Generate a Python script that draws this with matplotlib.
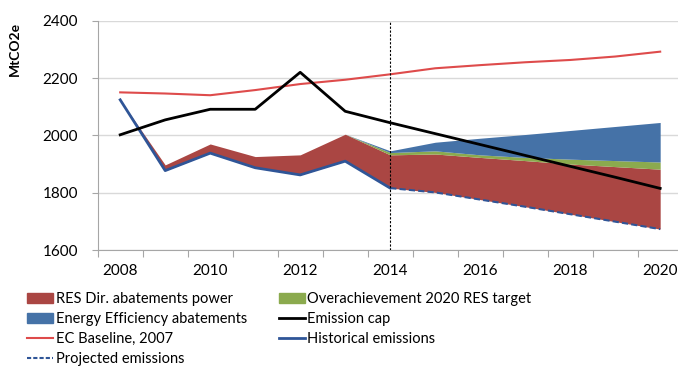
import matplotlib
matplotlib.use('Agg')
import matplotlib.pyplot as plt
from matplotlib.patches import Patch
from matplotlib.lines import Line2D
import numpy as np

# emissions in MtCO2e, 2008-2020
years = list(range(2008, 2021))
ec_baseline = [2150, 2146, 2140, 2158, 2179, 2194, 2213, 2234, 2245, 2255, 2263, 2275, 2292]
emission_cap = [2002, 2054, 2091, 2091, 2220, 2084, 2044, 2006, 1968, 1930, 1892, 1854, 1815]
historical = [2124, 1877, 1938, 1887, 1862, 1910, 1816]            # 2008-2014
projected = [1816, 1801, 1776, 1751, 1725, 1699, 1673]             # 2014-2020
# stacked abatement layers on top of historical / projected emissions
res_abatement = [0, 20, 32, 39, 70, 94, 116, 134, 147, 161, 175, 192, 209]
overachievement = [0, 0, 0, 0, 0, 0, 8, 11, 9, 11, 17, 21, 25]
ee_abatement = [0, 0, 0, 0, 0, 0, 6, 30, 58, 80, 100, 119, 138]

c_res = '#AA4643'
c_over = '#8BAA4E'
c_ee = '#4572A7'
c_line_blue = '#2F5597'
c_baseline = '#DE4B4B'

plt.rcParams['font.family'] = ['Lato', 'DejaVu Sans']

x = np.array(years)
base = np.array(historical[:-1] + projected)
l1 = base + np.array(res_abatement)
l2 = l1 + np.array(overachievement)
l3 = l2 + np.array(ee_abatement)

fig = plt.figure(figsize=(6.78, 3.71), dpi=100)
ax = fig.add_axes([0.1441, 0.3261, 0.8628, 0.6181])

ax.fill_between(x, base, l1, color=c_res, lw=0, zorder=2)
ax.fill_between(x, l1, l2, color=c_over, lw=0, zorder=2)
ax.fill_between(x, l2, l3, color=c_ee, lw=0, zorder=2)

ax.plot(x, ec_baseline, color=c_baseline, lw=1.5, zorder=3)
ax.plot(x, emission_cap, color='black', lw=2, zorder=4)
ax.plot(x[:7], historical, color=c_line_blue, lw=2, zorder=3)
ax.plot(x[6:], projected, color=c_line_blue, lw=1.5, ls=(0, (3, 1.5)), zorder=3)
ax.axvline(2014, color='black', lw=0.8, ls=(0, (2, 1.5)), zorder=5)

ax.set_xlim(2007.5, 2020.5)
ax.set_ylim(1600, 2400)
ax.set_yticks(range(1600, 2401, 200))
ax.set_xticks(years[::2])
ax.set_xticks(np.arange(2007.5, 2021, 1), minor=True)
ax.tick_params(axis='x', which='major', length=0, pad=10, labelsize=11)
ax.tick_params(axis='x', which='minor', length=5, color='#A6A6A6', width=0.8)
ax.tick_params(axis='y', length=4, color='#A6A6A6', width=0.8, pad=10, labelsize=11)
ax.grid(axis='y', color='#D9D9D9', lw=1)
ax.set_axisbelow(True)
for s in ['top', 'right']:
    ax.spines[s].set_visible(False)
for s in ['left', 'bottom']:
    ax.spines[s].set_color('#A6A6A6')
    ax.spines[s].set_linewidth(0.8)

fig.text(0.022, 0.868, 'MtCO2e', rotation=90, fontsize=10, fontweight='bold',
         ha='center', va='center')

left_handles = [
    Patch(color=c_res, label='RES Dir. abatements power'),
    Patch(color=c_ee, label='Energy Efficiency abatements'),
    Line2D([], [], color=c_baseline, lw=1.5, label='EC Baseline, 2007'),
    Line2D([], [], color=c_line_blue, lw=1.5, ls=(0, (2, 1)), label='Projected emissions'),
]
right_handles = [
    Patch(color=c_over, label='Overachievement 2020 RES target'),
    Line2D([], [], color='black', lw=2, label='Emission cap'),
    Line2D([], [], color=c_line_blue, lw=2, label='Historical emissions'),
]
leg_kw = dict(loc='upper left', frameon=False, fontsize=10.5, handlelength=1.8,
              handletextpad=0.15, labelspacing=0.4, borderaxespad=0, borderpad=0)
fig.legend(handles=left_handles, bbox_to_anchor=(0.04, 0.212), **leg_kw)
fig.legend(handles=right_handles, bbox_to_anchor=(0.411, 0.212), **leg_kw)

fig.savefig('out.png', dpi=100)
